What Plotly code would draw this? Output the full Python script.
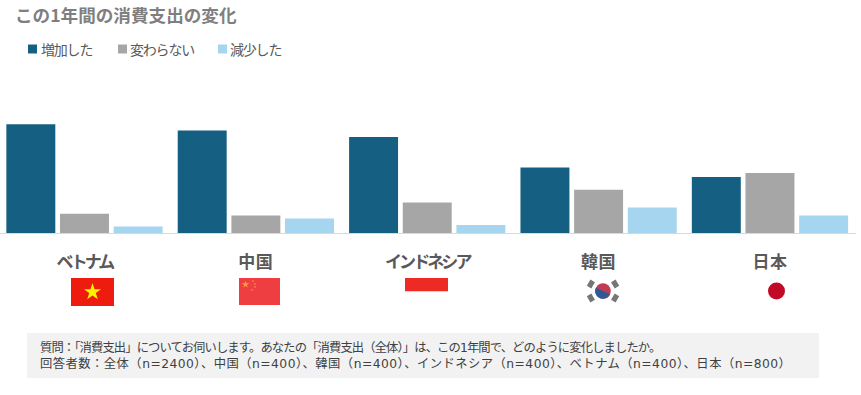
import math
import plotly.graph_objects as go

countries = ["ベトナム", "中国", "インドネシア", "韓国", "日本"]
increased = [68, 64, 60, 41, 35]
unchanged = [12, 11, 19, 27, 37.5]
decreased = [4, 9, 5, 16, 11]
series_names = ["増加した", "変わらない", "減少した"]
series_colors = ["#156082", "#a6a6a6", "#a6d5ef"]
title_text = "この1年間の消費支出の変化"
note_lines = [
    "質問：「消費支出」についてお伺いします。あなたの「消費支出（全体）」は、この1年間で、どのように変化しましたか。",
    "回答者数：全体（n=2400）、中国（n=400）、韓国（n=400）、インドネシア（n=400）、ベトナム（n=400）、日本（n=800）",
]

W, H = 861, 395
L, T, PW, PH = 0, 113, 856, 120
FONT = "Noto Sans CJK JP"
NOTE_FONT = "DejaVu Sans, Noto Sans CJK JP"


def fx(x):
    return (x - L) / PW


def fy(y):
    return 1 - (y - T) / PH


def spaced(text, px):
    return f'<span style="letter-spacing:{px}px">{text}</span>'


def rect(x0, y0, x1, y1, color):
    return dict(type="rect", xref="paper", yref="paper", x0=fx(x0), x1=fx(x1), y0=fy(y0), y1=fy(y1),
                fillcolor=color, line=dict(width=0), layer="above")


def circle(cx, cy, r, color):
    return dict(type="circle", xref="paper", yref="paper", x0=fx(cx - r), x1=fx(cx + r), y0=fy(cy - r), y1=fy(cy + r),
                fillcolor=color, line=dict(width=0), layer="above")


def poly(points, color):
    d = "M" + " L".join(f"{fx(x):.5f},{fy(y):.5f}" for x, y in points) + " Z"
    return dict(type="path", xref="paper", yref="paper", path=d, fillcolor=color, line=dict(width=0), layer="above")


def star(cx, cy, r, color, rot=0.0):
    pts = []
    for i in range(10):
        rr = r if i % 2 == 0 else r * 0.382
        a = rot - math.pi / 2 + i * math.pi / 5
        pts.append((cx + rr * math.cos(a), cy + rr * math.sin(a)))
    return poly(pts, color)


def half_disc(cx, cy, r, a0, a1, color, n=24):
    return poly([(cx + r * math.cos(a0 + (a1 - a0) * i / n), cy + r * math.sin(a0 + (a1 - a0) * i / n))
                 for i in range(n + 1)], color)


shapes = []
# Note box
shapes.append(rect(27, 333, 819, 378, "#f2f2f2"))
# Legend swatches
for sx, c in zip([28, 118, 218], series_colors):
    shapes.append(rect(sx, 44.5, sx + 9, 53.5, c))
# Vietnam
shapes.append(rect(71, 278, 114, 306, "#ee1c0e"))
shapes.append(star(92.5, 292, 9, "#fff200"))
# China
shapes.append(rect(239, 278, 280, 305, "#ef3e42"))
shapes.append(star(245.5, 284.5, 3.8, "#f7a13a"))
for sx, sy in [(253, 281), (255, 284), (255, 287), (252, 290)]:
    shapes.append(star(sx, sy, 1.4, "#f58a4a"))
# Indonesia
shapes.append(rect(405, 278, 448, 291.5, "#ee2a24"))
shapes.append(rect(405, 291.5, 448, 305, "#fefefe"))
# Korea
kx, ky, kr = 603, 291, 7.8
tilt = math.radians(25)
shapes.append(circle(kx, ky, kr, "#c33a54"))
shapes.append(half_disc(kx, ky, kr, tilt, tilt + math.pi, "#2f5a94"))
for ang in [30, 150, 210, 330]:
    a = math.radians(ang)
    cx, cy = kx + 14 * math.cos(a), ky + 14 * math.sin(a)
    ux, uy = math.cos(a), math.sin(a)
    vx, vy = -uy, ux
    pts = [(cx + ux * du + vx * dv, cy + uy * du + vy * dv)
           for du, dv in [(-2.6, -3.6), (2.6, -3.6), (2.6, 3.6), (-2.6, 3.6)]]
    shapes.append(poly(pts, "#767676"))
# Japan
shapes.append(circle(776.5, 291, 8.5, "#c00a27"))

fig = go.Figure()
for name, vals, color in zip(series_names, [increased, unchanged, decreased], series_colors):
    fig.add_bar(name=name, x=countries, y=vals, marker=dict(color=color, line=dict(width=0)), showlegend=False)

annotations = [
    dict(text=f"<b>{title_text}</b>", x=fx(15), y=fy(14.5), xanchor="left", yanchor="middle",
         font=dict(size=17.6, color="#7f7f7f", family=FONT)),
]
for tx, name in zip([41, 130, 230], series_names):
    annotations.append(dict(text=spaced(name, -1.2), x=fx(tx), y=fy(49.5), xanchor="left", yanchor="middle",
                            font=dict(size=14, color="#595959", family=FONT)))
for ty, line, sp in zip([347, 363.5], note_lines, [-0.87, 0.47]):
    annotations.append(dict(text=spaced(line, sp), x=fx(40), y=fy(ty), xanchor="left", yanchor="middle",
                            font=dict(size=12.3, color="#404040", family=NOTE_FONT)))
for a in annotations:
    a.update(xref="paper", yref="paper", showarrow=False, borderpad=0, borderwidth=0)

tick_text = [spaced(f"<b>{c}</b>", -2.9 if len(c) > 2 else 0.5) for c in countries]

fig.update_layout(
    width=W, height=H, margin=dict(l=L, r=W - L - PW, t=T, b=H - T - PH, pad=0),
    paper_bgcolor="white", plot_bgcolor="white", barmode="group",
    bargap=0.0607, bargroupgap=0.0875, showlegend=False,
    shapes=shapes, annotations=annotations, font=dict(family=FONT),
    xaxis=dict(type="category", range=[-0.493, 4.502], showline=True, linecolor="#d9d9d9", linewidth=1,
               ticks="", showgrid=False, ticklabelstandoff=14, categoryorder="array", categoryarray=countries,
               tickmode="array", tickvals=countries, ticktext=tick_text,
               tickfont=dict(size=17, color="#595959", family=FONT)),
    yaxis=dict(range=[0, 75], visible=False, showgrid=False, zeroline=False),
)
fig.write_html("out.html", config=dict(displayModeBar=False),
               post_script="document.body.style.margin='0';document.documentElement.style.overflow='hidden';")
